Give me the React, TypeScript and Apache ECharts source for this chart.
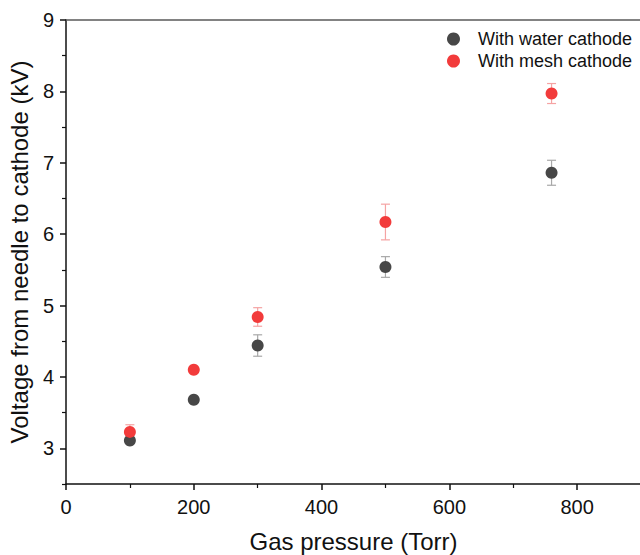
import React, { useEffect, useRef } from "react";
import * as echarts from "echarts";

const pressure = [100, 200, 300, 500, 760];
const waterV = [3.11, 3.68, 4.44, 5.54, 6.86];
const waterErr = [0.03, 0.02, 0.15, 0.145, 0.175];
const meshV = [3.23, 4.1, 4.84, 6.17, 7.97];
const meshErr = [0.1, 0.02, 0.13, 0.25, 0.14];

const xMajor = [0, 200, 400, 600, 800];
const xMinor = [100, 300, 500, 700, 900];
const yMajor = [3, 4, 5, 6, 7, 8, 9];
const yMinor = [2.5, 3.5, 4.5, 5.5, 6.5, 7.5, 8.5];

const waterColor = "#474747";
const meshColor = "#f23b3b";
const waterErrColor = "#a8a8a8";
const meshErrColor = "#f5a3a3";

const FONT = "Liberation Sans, Arial, sans-serif";

function errData(v: number[], e: number[]) {
  return pressure.map((p, i) => [p, v[i], v[i] - e[i], v[i] + e[i]]);
}

function errSeries(v: number[], e: number[], color: string) {
  return {
    type: "custom",
    silent: true,
    data: errData(v, e),
    z: 1,
    renderItem: (params: any, api: any) => {
      const x = api.value(0);
      const lo = api.coord([x, api.value(2)]);
      const hi = api.coord([x, api.value(3)]);
      const cw = 4.5;
      const style = { stroke: color, lineWidth: 1.2 };
      return {
        type: "group",
        children: [
          { type: "line", shape: { x1: lo[0], y1: lo[1], x2: hi[0], y2: hi[1] }, style },
          { type: "line", shape: { x1: lo[0] - cw, y1: lo[1], x2: lo[0] + cw, y2: lo[1] }, style },
          { type: "line", shape: { x1: hi[0] - cw, y1: hi[1], x2: hi[0] + cw, y2: hi[1] }, style },
        ],
      };
    },
  };
}

export default function App() {
  const ref = useRef<HTMLDivElement>(null);
  useEffect(() => {
    if (!ref.current) return;
    const chart = echarts.init(ref.current, undefined, { renderer: "svg" });
    chart.setOption({
      animation: false,
      backgroundColor: "#ffffff",
      grid: { left: 66, top: 20, width: 575, height: 464, containLabel: false, outerBoundsMode: "none" },
      legend: {
        orient: "vertical",
        left: 442,
        top: 25,
        itemGap: 4,
        itemWidth: 13,
        itemHeight: 13,
        icon: "circle",
        textStyle: { fontFamily: FONT, fontSize: 18, color: "#111", padding: [0, 0, 0, 13] },
        data: ["With water cathode", "With mesh cathode"],
      },
      xAxis: [
        {
          type: "value",
          position: "bottom",
          min: 0,
          max: 900,
          interval: 100,
          name: "Gas pressure (Torr)",
          nameLocation: "middle",
          nameGap: 45,
          nameTextStyle: { fontFamily: FONT, fontSize: 24, color: "#111" },
          axisLine: { lineStyle: { color: "#111", width: 1.5 } },
          axisTick: { customValues: xMajor, inside: false, length: 6, lineStyle: { color: "#111", width: 1.5 } },
          axisLabel: { customValues: xMajor, fontFamily: FONT, fontSize: 20, color: "#111", margin: 13 },
          splitLine: { show: false },
        },
        {
          type: "value",
          position: "bottom",
          min: 0,
          max: 900,
          interval: 100,
          axisLine: { show: false },
          axisTick: { customValues: xMinor, inside: false, length: 4, lineStyle: { color: "#111", width: 1.2 } },
          axisLabel: { show: false },
          splitLine: { show: false },
        },
        {
          type: "value",
          position: "top",
          min: 0,
          max: 900,
          axisLine: { show: true, lineStyle: { color: "#5a5a5a", width: 1.5 } },
          axisTick: { show: false },
          axisLabel: { show: false },
          splitLine: { show: false },
        },
      ],
      yAxis: [
        {
          type: "value",
          position: "left",
          min: 2.5,
          max: 9,
          interval: 0.5,
          name: "Voltage from needle to cathode (kV)",
          nameLocation: "middle",
          nameGap: 30,
          nameTextStyle: { fontFamily: FONT, fontSize: 24, color: "#111" },
          axisLine: { show: true, lineStyle: { color: "#111", width: 1.5 } },
          axisTick: { show: true, customValues: yMajor, inside: false, length: 6, lineStyle: { color: "#111", width: 1.5 } },
          axisLabel: { customValues: yMajor, fontFamily: FONT, fontSize: 20, color: "#111", margin: 12 },
          splitLine: { show: false },
        },
        {
          type: "value",
          position: "left",
          offset: 0,
          min: 2.5,
          max: 9,
          interval: 0.5,
          axisLine: { show: false },
          axisTick: { show: true, customValues: yMinor, inside: false, length: 4, lineStyle: { color: "#111", width: 1.2 } },
          axisLabel: { show: false },
          splitLine: { show: false },
        },
      ],
      series: [
        errSeries(waterV, waterErr, waterErrColor),
        errSeries(meshV, meshErr, meshErrColor),
        {
          name: "With water cathode",
          type: "scatter",
          symbol: "circle",
          symbolSize: 12,
          itemStyle: { color: waterColor, opacity: 1 },
          data: pressure.map((p, i) => [p, waterV[i]]),
          z: 3,
        },
        {
          name: "With mesh cathode",
          type: "scatter",
          symbol: "circle",
          symbolSize: 12,
          itemStyle: { color: meshColor, opacity: 1 },
          data: pressure.map((p, i) => [p, meshV[i]]),
          z: 4,
        },
      ],
    });
    return () => chart.dispose();
  }, []);
  return (
    <div
      ref={ref}
      style={{ position: "absolute", left: 0, top: 0, width: 640, height: 555, background: "#fff" }}
    />
  );
}
